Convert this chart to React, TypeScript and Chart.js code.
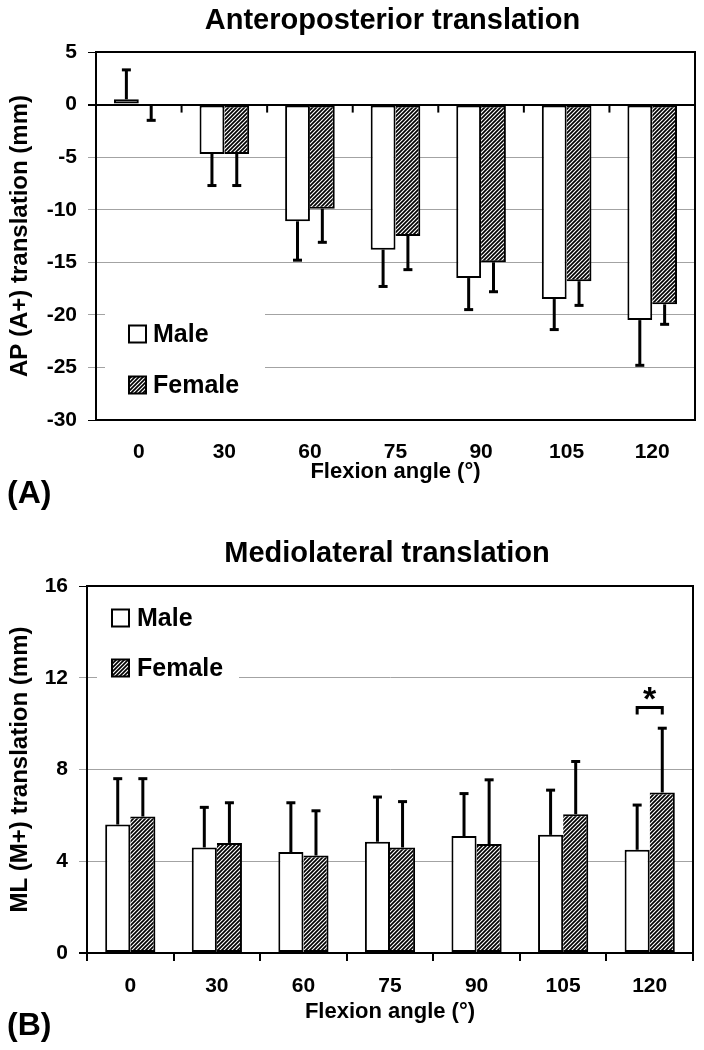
import React, { useEffect, useRef } from 'react';
import { Chart, registerables } from 'chart.js';

Chart.register(...registerables);

// ---------- data ----------
const angles = ['0', '30', '60', '75', '90', '105', '120'];
const seriesNames = ['Male', 'Female'];

const apMale = [0.5, -4.7, -11.1, -13.8, -16.5, -18.5, -20.5];
const apMaleSD = [2.8, 3.0, 3.7, 3.5, 3.0, 2.9, 4.3];
const apFemale = [-0.1, -4.7, -9.9, -12.5, -15.0, -16.8, -19.0];
const apFemaleSD = [1.4, 3.0, 3.2, 3.2, 2.8, 2.3, 1.9];
const apTickRange = [-30, 5, 5]; // min, max, step

const mlMale = [5.6, 4.6, 4.4, 4.85, 5.1, 5.15, 4.5];
const mlMaleSD = [2.0, 1.75, 2.15, 1.95, 1.85, 1.95, 1.95];
const mlFemale = [5.95, 4.8, 4.25, 4.6, 4.75, 6.05, 7.0];
const mlFemaleSD = [1.65, 1.75, 1.95, 2.0, 2.8, 2.3, 2.8];
const mlTickRange = [0, 16, 4];

const sigCategory = '120';
const sigLevel = 10.7;

// ---------- styling ----------
const FONT = '"Liberation Sans", Arial, Helvetica, sans-serif';
const GRID_GRAY = '#a3a3a3';
const W = 704;

function makeHatch(): CanvasPattern | string {
  const c = document.createElement('canvas');
  const s = 4;
  c.width = s;
  c.height = s;
  const g = c.getContext('2d');
  if (!g) return '#777';
  g.fillStyle = '#fff';
  g.fillRect(0, 0, s, s);
  g.strokeStyle = '#000';
  g.lineWidth = 1.7;
  const seg = (x1: number, y1: number, x2: number, y2: number) => {
    g.beginPath();
    g.moveTo(x1, y1);
    g.lineTo(x2, y2);
    g.stroke();
  };
  seg(-1, s + 1, s + 1, -1);
  seg(-1, 1, 1, -1);
  seg(s - 1, s + 1, s + 1, s - 1);
  return g.createPattern(c, 'repeat') || '#777';
}

interface PanelCfg {
  height: number;
  area: { left: number; right: number; top: number; bottom: number };
  male: number[];
  maleSD: number[];
  female: number[];
  femaleSD: number[];
  range: number[];
  blackValues: number[];
  title: string;
  titleY: number;
  yTitle: string;
  xTitleY: number;
  panelLabel: string;
  panelLabelY: number;
  zeroTicks: boolean;
  xTickMarks: boolean;
  xLabelPadding: number;
  legend: { rect: number[]; swatchX: number; textX: number; rows: number[] };
  sig: boolean;
}

function drawText(ctx: CanvasRenderingContext2D, text: string, x: number, y: number, size: number, align: CanvasTextAlign, baseline: CanvasTextBaseline, rot = 0) {
  ctx.save();
  ctx.fillStyle = '#000';
  ctx.font = `bold ${size}px ${FONT}`;
  ctx.textAlign = align;
  ctx.textBaseline = baseline;
  ctx.translate(x, y);
  if (rot) ctx.rotate(rot);
  ctx.fillText(text, 0, 0);
  ctx.restore();
}

function buildChart(canvas: HTMLCanvasElement, cfg: PanelCfg, hatch: CanvasPattern | string) {
  const [yMin, yMax, yStep] = cfg.range;
  const errs = [cfg.maleSD, cfg.femaleSD];

  const panelPlugin = {
    id: 'panelDecor',
    beforeDatasetsDraw(chart: any) {
      const ctx: CanvasRenderingContext2D = chart.ctx;
      const a = chart.chartArea;
      const L = cfg.legend;
      ctx.save();
      ctx.fillStyle = '#fff';
      ctx.fillRect(L.rect[0], L.rect[1], L.rect[2], L.rect[3]);
      const sw = 17;
      L.rows.forEach((yc, i) => {
        ctx.fillStyle = i === 0 ? '#fff' : (hatch as any);
        ctx.fillRect(L.swatchX, yc - sw / 2, sw, sw);
        ctx.strokeStyle = '#000';
        ctx.lineWidth = 2;
        ctx.strokeRect(L.swatchX, yc - sw / 2, sw, sw);
        drawText(ctx, seriesNames[i], L.textX, yc + 1, 25, 'left', 'middle');
      });
      ctx.strokeStyle = '#000';
      ctx.lineWidth = 2;
      ctx.strokeRect(a.left, a.top, a.right - a.left, a.bottom - a.top);
      ctx.restore();
    },
    afterDatasetsDraw(chart: any) {
      const ctx: CanvasRenderingContext2D = chart.ctx;
      const ys = chart.scales.y;
      const xs = chart.scales.x;
      ctx.save();
      ctx.strokeStyle = '#000';
      ctx.lineCap = 'butt';
      chart.data.datasets.forEach((ds: any, i: number) => {
        const meta = chart.getDatasetMeta(i);
        meta.data.forEach((bar: any, j: number) => {
          const v = ds.data[j];
          const e = errs[i][j];
          const end = v >= 0 ? v + e : v - e;
          const y0 = ys.getPixelForValue(v);
          const y1 = ys.getPixelForValue(end);
          ctx.lineWidth = 3;
          ctx.beginPath();
          ctx.moveTo(bar.x, y0);
          ctx.lineTo(bar.x, y1);
          ctx.stroke();
          ctx.beginPath();
          ctx.moveTo(bar.x - 4.5, y1);
          ctx.lineTo(bar.x + 4.5, y1);
          ctx.stroke();
        });
      });
      if (cfg.zeroTicks) {
        const y0 = ys.getPixelForValue(0);
        const n = angles.length;
        ctx.lineWidth = 2;
        for (let i = 0; i <= n; i++) {
          const x = xs.left + (i * (xs.right - xs.left)) / n;
          ctx.beginPath();
          ctx.moveTo(x, y0);
          ctx.lineTo(x, y0 + 8);
          ctx.stroke();
        }
      }
      if (cfg.sig) {
        const k = angles.indexOf(sigCategory);
        const x1 = chart.getDatasetMeta(0).data[k].x;
        const x2 = chart.getDatasetMeta(1).data[k].x;
        const yb = ys.getPixelForValue(sigLevel);
        const yl = ys.getPixelForValue(sigLevel - 0.3);
        ctx.lineWidth = 3;
        ctx.beginPath();
        ctx.moveTo(x1, yl);
        ctx.lineTo(x1, yb);
        ctx.lineTo(x2, yb);
        ctx.lineTo(x2, yl);
        ctx.stroke();
        drawText(ctx, '*', (x1 + x2) / 2, yb + 2, 34, 'center', 'alphabetic');
      }
      ctx.restore();
    },
    afterDraw(chart: any) {
      const ctx: CanvasRenderingContext2D = chart.ctx;
      const a = chart.chartArea;
      const cx = (a.left + a.right) / 2;
      drawText(ctx, cfg.title, cx - 3, cfg.titleY, 29, 'center', 'alphabetic');
      drawText(ctx, 'Flexion angle (°)', cx, cfg.xTitleY, 22, 'center', 'middle');
      drawText(ctx, cfg.yTitle, 20, (a.top + a.bottom) / 2, 24, 'center', 'middle', -Math.PI / 2);
      drawText(ctx, cfg.panelLabel, 7, cfg.panelLabelY, 32, 'left', 'middle');
    },
  };

  const tickFont = { family: FONT, size: 21, weight: 'bold' as const };

  return new Chart(canvas, {
    type: 'bar',
    data: {
      labels: angles,
      datasets: [
        {
          label: seriesNames[0],
          data: cfg.male,
          backgroundColor: '#fff',
          borderColor: '#000',
          borderWidth: 2,
          borderSkipped: false,
        },
        {
          label: seriesNames[1],
          data: cfg.female,
          backgroundColor: hatch as any,
          borderColor: '#000',
          borderWidth: { left: 0, right: 2, top: 2, bottom: 2 },
          borderSkipped: false,
        },
      ],
    },
    options: {
      responsive: false,
      animation: false,
      events: [],
      layout: {
        padding: { left: 0, top: cfg.area.top, right: W - cfg.area.right, bottom: 0 },
      },
      plugins: {
        legend: { display: false },
        title: { display: false },
        tooltip: { enabled: false },
      },
      datasets: {
        bar: { categoryPercentage: 0.58, barPercentage: 1.0 },
      },
      scales: {
        x: {
          grid: cfg.xTickMarks
            ? { display: true, drawOnChartArea: false, drawTicks: true, tickLength: 8, color: '#000', lineWidth: 2, offset: true }
            : { display: false, drawTicks: false },
          border: { display: true, color: '#000', width: 2 },
          ticks: { font: tickFont, color: '#000', padding: cfg.xLabelPadding, maxRotation: 0 },
          afterFit(scale: any) {
            scale.height = cfg.height - cfg.area.bottom;
          },
        },
        y: {
          min: yMin,
          max: yMax,
          ticks: { stepSize: yStep, font: tickFont, color: '#000', padding: 11 },
          grid: {
            drawTicks: true,
            tickLength: 8,
            color: (c: any) => (cfg.blackValues.includes(c.tick?.value) ? '#000' : GRID_GRAY),
            lineWidth: (c: any) => (c.tick?.value === 0 ? 2 : 1),
          },
          border: { display: true, color: '#000', width: 2 },
          afterFit(scale: any) {
            scale.width = cfg.area.left;
          },
        },
      },
    },
    plugins: [panelPlugin],
  } as any);
}

const topCfg: PanelCfg = {
  height: 520,
  area: { left: 96, right: 695, top: 52, bottom: 420 },
  male: apMale,
  maleSD: apMaleSD,
  female: apFemale,
  femaleSD: apFemaleSD,
  range: apTickRange,
  blackValues: [0, 5, -30],
  title: 'Anteroposterior translation',
  titleY: 29,
  yTitle: 'AP (A+) translation (mm)',
  xTitleY: 472,
  panelLabel: '(A)',
  panelLabelY: 494,
  zeroTicks: true,
  xTickMarks: false,
  xLabelPadding: 20,
  legend: { rect: [105, 298, 160, 100], swatchX: 129, textX: 153, rows: [334, 385] },
  sig: false,
};

const bottomCfg: PanelCfg = {
  height: 530,
  area: { left: 87, right: 693, top: 66, bottom: 433 },
  male: mlMale,
  maleSD: mlMaleSD,
  female: mlFemale,
  femaleSD: mlFemaleSD,
  range: mlTickRange,
  blackValues: [0, 16],
  title: 'Mediolateral translation',
  titleY: 42,
  yTitle: 'ML (M+) translation (mm)',
  xTitleY: 492,
  panelLabel: '(B)',
  panelLabelY: 506,
  zeroTicks: false,
  xTickMarks: true,
  xLabelPadding: 13,
  legend: { rect: [97, 74, 142, 100], swatchX: 112, textX: 137, rows: [98, 148] },
  sig: true,
};

export default function App() {
  const topRef = useRef<HTMLCanvasElement | null>(null);
  const botRef = useRef<HTMLCanvasElement | null>(null);

  useEffect(() => {
    const hatch = makeHatch();
    const charts: Chart[] = [];
    if (topRef.current) charts.push(buildChart(topRef.current, topCfg, hatch));
    if (botRef.current) charts.push(buildChart(botRef.current, bottomCfg, hatch));
    return () => {
      charts.forEach((c) => c.destroy());
    };
  }, []);

  return (
    <div style={{ position: 'absolute', left: 0, top: 0, width: W, height: 1050, background: '#fff' }}>
      <canvas ref={topRef} width={W} height={520} style={{ display: 'block', width: W, height: 520 }} />
      <canvas ref={botRef} width={W} height={530} style={{ display: 'block', width: W, height: 530 }} />
    </div>
  );
}
